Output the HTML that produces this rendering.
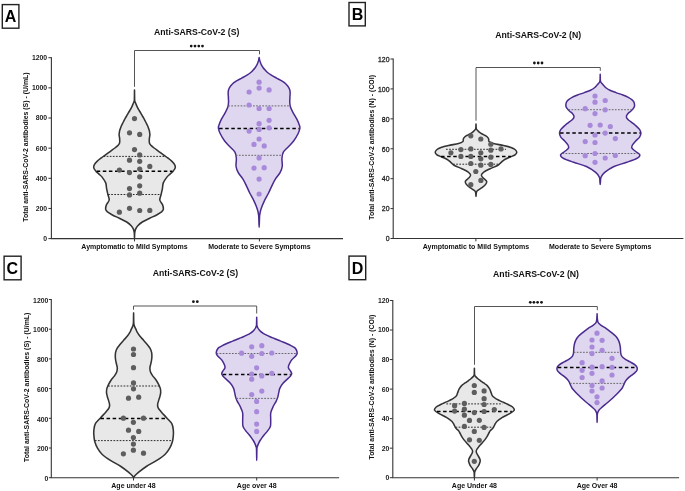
<!DOCTYPE html>
<html><head><meta charset="utf-8"><style>
html,body{margin:0;padding:0;background:#fff;}
svg{display:block;font-family:"Liberation Sans", sans-serif;}
text{-webkit-font-smoothing:antialiased;}
body{will-change:transform;}
</style></head><body>
<svg width="685" height="491" viewBox="0 0 685 491">
<rect width="685" height="491" fill="#fff"/>
<rect x="2.3" y="4.6" width="16.60" height="23.60" fill="none" stroke="#222" stroke-width="1.4"/>
<text x="10.6" y="21.7" font-size="16" font-weight="bold" text-anchor="middle" fill="#000">A</text>
<text x="196.7" y="34.7" font-size="8.7" font-weight="bold" text-anchor="middle" fill="#111">Anti-SARS-CoV-2 (S)</text>
<line x1="51.4" y1="57.2" x2="51.4" y2="238.6" stroke="#333" stroke-width="1.1"/>
<line x1="50.85" y1="238.6" x2="343" y2="238.6" stroke="#333" stroke-width="1.1"/>
<line x1="48.4" y1="238.60" x2="51.4" y2="238.60" stroke="#333" stroke-width="1"/>
<text transform="translate(47.20,241.05) scale(0.92,1)" font-size="7.5" font-weight="bold" text-anchor="end" fill="#222">0</text>
<line x1="48.4" y1="208.45" x2="51.4" y2="208.45" stroke="#333" stroke-width="1"/>
<text transform="translate(47.20,210.90) scale(0.92,1)" font-size="7.5" font-weight="bold" text-anchor="end" fill="#222">200</text>
<line x1="48.4" y1="178.30" x2="51.4" y2="178.30" stroke="#333" stroke-width="1"/>
<text transform="translate(47.20,180.75) scale(0.92,1)" font-size="7.5" font-weight="bold" text-anchor="end" fill="#222">400</text>
<line x1="48.4" y1="148.15" x2="51.4" y2="148.15" stroke="#333" stroke-width="1"/>
<text transform="translate(47.20,150.60) scale(0.92,1)" font-size="7.5" font-weight="bold" text-anchor="end" fill="#222">600</text>
<line x1="48.4" y1="118.00" x2="51.4" y2="118.00" stroke="#333" stroke-width="1"/>
<text transform="translate(47.20,120.45) scale(0.92,1)" font-size="7.5" font-weight="bold" text-anchor="end" fill="#222">800</text>
<line x1="48.4" y1="87.85" x2="51.4" y2="87.85" stroke="#333" stroke-width="1"/>
<text transform="translate(47.20,90.30) scale(0.92,1)" font-size="7.5" font-weight="bold" text-anchor="end" fill="#222">1000</text>
<line x1="48.4" y1="57.70" x2="51.4" y2="57.70" stroke="#333" stroke-width="1"/>
<text transform="translate(47.20,60.15) scale(0.92,1)" font-size="7.5" font-weight="bold" text-anchor="end" fill="#222">1200</text>
<line x1="134.5" y1="238.6" x2="134.5" y2="241.4" stroke="#333" stroke-width="1"/>
<text x="134.5" y="249" font-size="7" font-weight="bold" text-anchor="middle" fill="#111">Aymptomatic to Mild Symptoms</text>
<line x1="259.4" y1="238.6" x2="259.4" y2="241.4" stroke="#333" stroke-width="1"/>
<text x="259.4" y="249" font-size="7" font-weight="bold" text-anchor="middle" fill="#111">Moderate to Severe Symptoms</text>
<path d="M134.5,86.8 V50.5 H259.5 V54.3" fill="none" stroke="#555" stroke-width="1"/>
<circle cx="191.2" cy="46.1" r="1.38" fill="#151515"/>
<circle cx="195" cy="46.1" r="1.38" fill="#151515"/>
<circle cx="198.8" cy="46.1" r="1.38" fill="#151515"/>
<circle cx="202.5" cy="46.1" r="1.38" fill="#151515"/>
<text transform="translate(25.7,147.1) rotate(-90) scale(0.99,1)" x="0" y="2.4" font-size="7" font-weight="bold" text-anchor="middle" fill="#111">Total anti-SARS-CoV-2 antibodies (S) - (U/mL)</text>
<rect x="349" y="2.5" width="16.30" height="23.40" fill="none" stroke="#222" stroke-width="1.4"/>
<text x="357.6" y="20.1" font-size="16" font-weight="bold" text-anchor="middle" fill="#000">B</text>
<text x="538.2" y="37.8" font-size="8.7" font-weight="bold" text-anchor="middle" fill="#111">Anti-SARS-CoV-2 (N)</text>
<line x1="393.2" y1="58.5" x2="393.2" y2="238.5" stroke="#333" stroke-width="1.1"/>
<line x1="392.65" y1="238.5" x2="683.4" y2="238.5" stroke="#333" stroke-width="1.1"/>
<line x1="390.5" y1="238.50" x2="393.2" y2="238.50" stroke="#333" stroke-width="1"/>
<text transform="translate(389.50,241.25) scale(0.92,1)" font-size="7.5" font-weight="normal" text-anchor="end" fill="#222" stroke="#222" stroke-width="0.3">0</text>
<line x1="390.5" y1="208.58" x2="393.2" y2="208.58" stroke="#333" stroke-width="1"/>
<text transform="translate(389.50,211.33) scale(0.92,1)" font-size="7.5" font-weight="normal" text-anchor="end" fill="#222" stroke="#222" stroke-width="0.3">20</text>
<line x1="390.5" y1="178.67" x2="393.2" y2="178.67" stroke="#333" stroke-width="1"/>
<text transform="translate(389.50,181.42) scale(0.92,1)" font-size="7.5" font-weight="normal" text-anchor="end" fill="#222" stroke="#222" stroke-width="0.3">40</text>
<line x1="390.5" y1="148.75" x2="393.2" y2="148.75" stroke="#333" stroke-width="1"/>
<text transform="translate(389.50,151.50) scale(0.92,1)" font-size="7.5" font-weight="normal" text-anchor="end" fill="#222" stroke="#222" stroke-width="0.3">60</text>
<line x1="390.5" y1="118.83" x2="393.2" y2="118.83" stroke="#333" stroke-width="1"/>
<text transform="translate(389.50,121.58) scale(0.92,1)" font-size="7.5" font-weight="normal" text-anchor="end" fill="#222" stroke="#222" stroke-width="0.3">80</text>
<line x1="390.5" y1="88.92" x2="393.2" y2="88.92" stroke="#333" stroke-width="1"/>
<text transform="translate(389.50,91.67) scale(0.92,1)" font-size="7.5" font-weight="normal" text-anchor="end" fill="#222" stroke="#222" stroke-width="0.3">100</text>
<line x1="390.5" y1="59.00" x2="393.2" y2="59.00" stroke="#333" stroke-width="1"/>
<text transform="translate(389.50,61.75) scale(0.92,1)" font-size="7.5" font-weight="normal" text-anchor="end" fill="#222" stroke="#222" stroke-width="0.3">120</text>
<line x1="475.9" y1="238.5" x2="475.9" y2="241.3" stroke="#333" stroke-width="1"/>
<text x="475.9" y="249" font-size="7" font-weight="bold" text-anchor="middle" fill="#111">Aymptomatic to Mild Symptoms</text>
<line x1="600.2" y1="238.5" x2="600.2" y2="241.3" stroke="#333" stroke-width="1"/>
<text x="600.2" y="249" font-size="7" font-weight="bold" text-anchor="middle" fill="#111">Moderate to Severe Symptoms</text>
<path d="M476.0,120.7 V67.5 H600.3 V70.8" fill="none" stroke="#555" stroke-width="1"/>
<circle cx="534.4" cy="63.0" r="1.38" fill="#151515"/>
<circle cx="538.2" cy="63.0" r="1.38" fill="#151515"/>
<circle cx="542.0" cy="63.0" r="1.38" fill="#151515"/>
<text transform="translate(371.8,147.4) rotate(-90) scale(0.99,1)" x="0" y="2.4" font-size="7" font-weight="bold" text-anchor="middle" fill="#111">Total anti-SARS-CoV-2 antibodies (N) - (COI)</text>
<rect x="4.1" y="256.2" width="17.00" height="23.60" fill="none" stroke="#222" stroke-width="1.4"/>
<text x="12.2" y="273.8" font-size="16" font-weight="bold" text-anchor="middle" fill="#000">C</text>
<text x="195.4" y="276.4" font-size="8.7" font-weight="bold" text-anchor="middle" fill="#111">Anti-SARS-CoV-2 (S)</text>
<line x1="51.3" y1="299.0" x2="51.3" y2="477.7" stroke="#333" stroke-width="1.1"/>
<line x1="50.75" y1="477.7" x2="339.1" y2="477.7" stroke="#333" stroke-width="1.1"/>
<line x1="48.9" y1="477.70" x2="51.3" y2="477.70" stroke="#333" stroke-width="1"/>
<text transform="translate(48.40,480.90) scale(0.92,1)" font-size="7.5" font-weight="bold" text-anchor="end" fill="#222">0</text>
<line x1="48.9" y1="448.00" x2="51.3" y2="448.00" stroke="#333" stroke-width="1"/>
<text transform="translate(48.40,451.20) scale(0.92,1)" font-size="7.5" font-weight="bold" text-anchor="end" fill="#222">200</text>
<line x1="48.9" y1="418.30" x2="51.3" y2="418.30" stroke="#333" stroke-width="1"/>
<text transform="translate(48.40,421.50) scale(0.92,1)" font-size="7.5" font-weight="bold" text-anchor="end" fill="#222">400</text>
<line x1="48.9" y1="388.60" x2="51.3" y2="388.60" stroke="#333" stroke-width="1"/>
<text transform="translate(48.40,391.80) scale(0.92,1)" font-size="7.5" font-weight="bold" text-anchor="end" fill="#222">600</text>
<line x1="48.9" y1="358.90" x2="51.3" y2="358.90" stroke="#333" stroke-width="1"/>
<text transform="translate(48.40,362.10) scale(0.92,1)" font-size="7.5" font-weight="bold" text-anchor="end" fill="#222">800</text>
<line x1="48.9" y1="329.20" x2="51.3" y2="329.20" stroke="#333" stroke-width="1"/>
<text transform="translate(48.40,332.40) scale(0.92,1)" font-size="7.5" font-weight="bold" text-anchor="end" fill="#222">1000</text>
<line x1="48.9" y1="299.50" x2="51.3" y2="299.50" stroke="#333" stroke-width="1"/>
<text transform="translate(48.40,302.70) scale(0.92,1)" font-size="7.5" font-weight="bold" text-anchor="end" fill="#222">1200</text>
<line x1="133.5" y1="477.7" x2="133.5" y2="480.5" stroke="#333" stroke-width="1"/>
<text x="133.5" y="487.8" font-size="7" font-weight="bold" text-anchor="middle" fill="#111">Age under 48</text>
<line x1="256.7" y1="477.7" x2="256.7" y2="480.5" stroke="#333" stroke-width="1"/>
<text x="256.7" y="487.8" font-size="7" font-weight="bold" text-anchor="middle" fill="#111">Age over 48</text>
<path d="M133.5,309.7 V306.0 H256.7 V313.5" fill="none" stroke="#555" stroke-width="1"/>
<circle cx="193.4" cy="301.7" r="1.38" fill="#151515"/>
<circle cx="197.3" cy="301.7" r="1.38" fill="#151515"/>
<text transform="translate(26.2,387.3) rotate(-90) scale(0.99,1)" x="0" y="2.4" font-size="7" font-weight="bold" text-anchor="middle" fill="#111">Total anti-SARS-CoV-2 antibodies (S) - (U/mL)</text>
<rect x="349" y="256.1" width="16.70" height="23.60" fill="none" stroke="#222" stroke-width="1.4"/>
<text x="357.5" y="273.5" font-size="16" font-weight="bold" text-anchor="middle" fill="#000">D</text>
<text x="536" y="277.4" font-size="8.7" font-weight="bold" text-anchor="middle" fill="#111">Anti-SARS-CoV-2 (N)</text>
<line x1="392.8" y1="300.0" x2="392.8" y2="477.7" stroke="#333" stroke-width="1.1"/>
<line x1="392.25" y1="477.7" x2="679.1" y2="477.7" stroke="#333" stroke-width="1.1"/>
<line x1="389.8" y1="477.70" x2="392.8" y2="477.70" stroke="#333" stroke-width="1"/>
<text transform="translate(389.40,480.15) scale(0.92,1)" font-size="7.5" font-weight="bold" text-anchor="end" fill="#222">0</text>
<line x1="389.8" y1="448.17" x2="392.8" y2="448.17" stroke="#333" stroke-width="1"/>
<text transform="translate(389.40,450.62) scale(0.92,1)" font-size="7.5" font-weight="bold" text-anchor="end" fill="#222">20</text>
<line x1="389.8" y1="418.63" x2="392.8" y2="418.63" stroke="#333" stroke-width="1"/>
<text transform="translate(389.40,421.08) scale(0.92,1)" font-size="7.5" font-weight="bold" text-anchor="end" fill="#222">40</text>
<line x1="389.8" y1="389.10" x2="392.8" y2="389.10" stroke="#333" stroke-width="1"/>
<text transform="translate(389.40,391.55) scale(0.92,1)" font-size="7.5" font-weight="bold" text-anchor="end" fill="#222">60</text>
<line x1="389.8" y1="359.57" x2="392.8" y2="359.57" stroke="#333" stroke-width="1"/>
<text transform="translate(389.40,362.02) scale(0.92,1)" font-size="7.5" font-weight="bold" text-anchor="end" fill="#222">80</text>
<line x1="389.8" y1="330.03" x2="392.8" y2="330.03" stroke="#333" stroke-width="1"/>
<text transform="translate(389.40,332.48) scale(0.92,1)" font-size="7.5" font-weight="bold" text-anchor="end" fill="#222">100</text>
<line x1="389.8" y1="300.50" x2="392.8" y2="300.50" stroke="#333" stroke-width="1"/>
<text transform="translate(389.40,302.95) scale(0.92,1)" font-size="7.5" font-weight="bold" text-anchor="end" fill="#222">120</text>
<line x1="474.4" y1="477.7" x2="474.4" y2="480.5" stroke="#333" stroke-width="1"/>
<text x="474.4" y="487.8" font-size="7" font-weight="bold" text-anchor="middle" fill="#111">Age Under 48</text>
<line x1="597.1" y1="477.7" x2="597.1" y2="480.5" stroke="#333" stroke-width="1"/>
<text x="597.1" y="487.8" font-size="7" font-weight="bold" text-anchor="middle" fill="#111">Age Over 48</text>
<path d="M474.5,364.8 V306.5 H597.3 V310.2" fill="none" stroke="#555" stroke-width="1"/>
<circle cx="530.3" cy="302.3" r="1.38" fill="#151515"/>
<circle cx="533.9" cy="302.3" r="1.38" fill="#151515"/>
<circle cx="537.6" cy="302.3" r="1.38" fill="#151515"/>
<circle cx="541.5" cy="302.3" r="1.38" fill="#151515"/>
<text transform="translate(371.3,387.2) rotate(-90) scale(0.99,1)" x="0" y="2.4" font-size="7" font-weight="bold" text-anchor="middle" fill="#111">Total anti-SARS-CoV-2 antibodies (N) - (COI)</text>
<path d="M134.50,90.10 C134.52,91.42 134.57,96.27 134.60,98.00 C134.63,99.73 134.62,99.83 134.70,100.50 C134.78,101.17 134.93,101.53 135.10,102.00 C135.27,102.47 135.42,102.63 135.70,103.30 C135.98,103.97 136.45,105.18 136.80,106.00 C137.15,106.82 137.40,107.45 137.80,108.20 C138.20,108.95 138.70,109.68 139.20,110.50 C139.70,111.32 140.30,112.25 140.80,113.10 C141.30,113.95 141.72,114.75 142.20,115.60 C142.68,116.45 143.23,117.35 143.70,118.20 C144.17,119.05 144.55,119.85 145.00,120.70 C145.45,121.55 145.97,122.45 146.40,123.30 C146.83,124.15 147.23,124.95 147.60,125.80 C147.97,126.65 148.30,127.55 148.60,128.40 C148.90,129.25 149.22,130.13 149.40,130.90 C149.58,131.67 149.62,132.32 149.70,133.00 C149.78,133.68 149.97,133.98 149.90,135.00 C149.83,136.02 149.37,137.73 149.30,139.10 C149.23,140.47 149.17,142.12 149.50,143.20 C149.83,144.28 150.53,144.80 151.30,145.60 C152.07,146.40 152.88,147.05 154.10,148.00 C155.32,148.95 157.10,150.20 158.60,151.30 C160.10,152.40 161.60,153.52 163.10,154.60 C164.60,155.68 166.17,156.72 167.60,157.80 C169.03,158.88 170.55,160.02 171.70,161.10 C172.85,162.18 173.90,163.22 174.50,164.30 C175.10,165.38 175.50,166.50 175.30,167.60 C175.10,168.70 174.18,169.82 173.30,170.90 C172.42,171.98 171.07,173.07 170.00,174.10 C168.93,175.13 168.02,175.63 166.90,177.10 C165.78,178.57 164.05,180.97 163.30,182.90 C162.55,184.83 162.77,186.77 162.40,188.70 C162.03,190.63 161.53,192.62 161.10,194.50 C160.67,196.38 159.57,198.32 159.80,200.00 C160.03,201.68 161.90,203.07 162.50,204.60 C163.10,206.13 163.55,207.98 163.40,209.20 C163.25,210.42 162.67,210.98 161.60,211.90 C160.53,212.82 158.98,213.63 157.00,214.70 C155.02,215.77 152.15,217.08 149.70,218.30 C147.25,219.52 144.28,220.77 142.30,222.00 C140.32,223.23 138.93,224.47 137.80,225.70 C136.67,226.93 136.02,228.18 135.50,229.40 C134.98,230.62 134.87,231.47 134.70,233.00 C134.53,234.53 134.57,238.60 134.50,238.60 C134.43,238.60 134.47,234.53 134.30,233.00 C134.13,231.47 134.02,230.62 133.50,229.40 C132.98,228.18 132.33,226.93 131.20,225.70 C130.07,224.47 128.68,223.23 126.70,222.00 C124.72,220.77 121.75,219.52 119.30,218.30 C116.85,217.08 113.98,215.77 112.00,214.70 C110.02,213.63 108.47,212.82 107.40,211.90 C106.33,210.98 105.75,210.42 105.60,209.20 C105.45,207.98 105.90,206.13 106.50,204.60 C107.10,203.07 108.97,201.68 109.20,200.00 C109.43,198.32 108.33,196.38 107.90,194.50 C107.47,192.62 106.97,190.63 106.60,188.70 C106.23,186.77 106.45,184.83 105.70,182.90 C104.95,180.97 103.22,178.57 102.10,177.10 C100.98,175.63 100.07,175.13 99.00,174.10 C97.93,173.07 96.58,171.98 95.70,170.90 C94.82,169.82 93.90,168.70 93.70,167.60 C93.50,166.50 93.90,165.38 94.50,164.30 C95.10,163.22 96.15,162.18 97.30,161.10 C98.45,160.02 99.97,158.88 101.40,157.80 C102.83,156.72 104.40,155.68 105.90,154.60 C107.40,153.52 108.90,152.40 110.40,151.30 C111.90,150.20 113.68,148.95 114.90,148.00 C116.12,147.05 116.93,146.40 117.70,145.60 C118.47,144.80 119.17,144.28 119.50,143.20 C119.83,142.12 119.77,140.47 119.70,139.10 C119.63,137.73 119.17,136.02 119.10,135.00 C119.03,133.98 119.22,133.68 119.30,133.00 C119.38,132.32 119.42,131.67 119.60,130.90 C119.78,130.13 120.10,129.25 120.40,128.40 C120.70,127.55 121.03,126.65 121.40,125.80 C121.77,124.95 122.17,124.15 122.60,123.30 C123.03,122.45 123.55,121.55 124.00,120.70 C124.45,119.85 124.83,119.05 125.30,118.20 C125.77,117.35 126.32,116.45 126.80,115.60 C127.28,114.75 127.70,113.95 128.20,113.10 C128.70,112.25 129.30,111.32 129.80,110.50 C130.30,109.68 130.80,108.95 131.20,108.20 C131.60,107.45 131.85,106.82 132.20,106.00 C132.55,105.18 133.02,103.97 133.30,103.30 C133.58,102.63 133.73,102.47 133.90,102.00 C134.07,101.53 134.22,101.17 134.30,100.50 C134.38,99.83 134.37,99.73 134.40,98.00 C134.43,96.27 134.48,91.42 134.50,90.10 Z" fill="#e8e8e8" stroke="#333333" stroke-width="1.55" stroke-linejoin="round"/>
<line x1="103.57" y1="156.4" x2="165.43" y2="156.4" stroke="#2a2a2a" stroke-width="1" stroke-dasharray="1.7 1.4"/>
<line x1="108.10" y1="194.5" x2="160.90" y2="194.5" stroke="#2a2a2a" stroke-width="1" stroke-dasharray="1.7 1.4"/>
<line x1="96.71" y1="171.3" x2="172.29" y2="171.3" stroke="#000" stroke-width="1.5" stroke-dasharray="3.5 2.6"/>
<circle cx="134.5" cy="118.6" r="2.6" fill="#5e5e5e"/>
<circle cx="129.5" cy="132.8" r="2.6" fill="#5e5e5e"/>
<circle cx="139.7" cy="134.4" r="2.6" fill="#5e5e5e"/>
<circle cx="134.5" cy="149.6" r="2.6" fill="#5e5e5e"/>
<circle cx="139.7" cy="154.9" r="2.6" fill="#5e5e5e"/>
<circle cx="129.5" cy="160.2" r="2.6" fill="#5e5e5e"/>
<circle cx="139.7" cy="161.3" r="2.6" fill="#5e5e5e"/>
<circle cx="149.8" cy="166.4" r="2.6" fill="#5e5e5e"/>
<circle cx="119.4" cy="170.1" r="2.6" fill="#5e5e5e"/>
<circle cx="129.5" cy="172.6" r="2.6" fill="#5e5e5e"/>
<circle cx="139.7" cy="169" r="2.6" fill="#5e5e5e"/>
<circle cx="139.7" cy="176.8" r="2.6" fill="#5e5e5e"/>
<circle cx="129.5" cy="188.6" r="2.6" fill="#5e5e5e"/>
<circle cx="139.7" cy="185.8" r="2.6" fill="#5e5e5e"/>
<circle cx="129.5" cy="194.9" r="2.6" fill="#5e5e5e"/>
<circle cx="139.7" cy="193.2" r="2.6" fill="#5e5e5e"/>
<circle cx="119.4" cy="212.2" r="2.6" fill="#5e5e5e"/>
<circle cx="129.5" cy="208.3" r="2.6" fill="#5e5e5e"/>
<circle cx="139.7" cy="210.5" r="2.6" fill="#5e5e5e"/>
<circle cx="149.8" cy="210.4" r="2.6" fill="#5e5e5e"/>
<path d="M259.15,57.50 C259.23,57.93 259.43,59.25 259.65,60.10 C259.87,60.95 260.13,61.75 260.45,62.60 C260.77,63.45 261.10,64.35 261.55,65.20 C262.00,66.05 262.52,66.85 263.15,67.70 C263.78,68.55 264.62,69.50 265.35,70.30 C266.08,71.10 266.55,71.70 267.55,72.50 C268.55,73.30 269.85,74.17 271.35,75.10 C272.85,76.03 274.75,77.08 276.55,78.10 C278.35,79.12 280.55,80.18 282.15,81.20 C283.75,82.22 285.07,83.18 286.15,84.20 C287.23,85.22 288.03,86.28 288.65,87.30 C289.27,88.32 289.60,89.28 289.85,90.30 C290.10,91.32 290.13,92.38 290.15,93.40 C290.17,94.42 290.00,95.38 289.95,96.40 C289.90,97.42 289.88,98.58 289.85,99.50 C289.82,100.42 289.65,100.65 289.75,101.90 C289.85,103.15 289.85,105.13 290.45,107.00 C291.05,108.87 292.28,111.07 293.35,113.10 C294.42,115.13 295.83,117.15 296.85,119.20 C297.87,121.25 298.95,123.87 299.45,125.40 C299.95,126.93 300.07,127.05 299.85,128.40 C299.63,129.75 299.18,131.40 298.15,133.50 C297.12,135.60 295.32,138.75 293.65,141.00 C291.98,143.25 289.87,145.13 288.15,147.00 C286.43,148.87 284.38,150.32 283.35,152.20 C282.32,154.08 282.13,155.92 281.95,158.30 C281.77,160.68 282.57,164.12 282.25,166.50 C281.93,168.88 281.15,170.57 280.05,172.60 C278.95,174.63 276.93,176.67 275.65,178.70 C274.37,180.73 273.53,182.42 272.35,184.80 C271.17,187.18 269.90,190.28 268.55,193.00 C267.20,195.72 265.52,198.40 264.25,201.10 C262.98,203.80 261.72,206.82 260.95,209.20 C260.18,211.58 259.95,212.40 259.65,215.40 C259.35,218.40 259.32,227.20 259.15,227.20 C258.98,227.20 258.95,218.40 258.65,215.40 C258.35,212.40 258.12,211.58 257.35,209.20 C256.58,206.82 255.32,203.80 254.05,201.10 C252.78,198.40 251.10,195.72 249.75,193.00 C248.40,190.28 247.13,187.18 245.95,184.80 C244.77,182.42 243.93,180.73 242.65,178.70 C241.37,176.67 239.35,174.63 238.25,172.60 C237.15,170.57 236.37,168.88 236.05,166.50 C235.73,164.12 236.53,160.68 236.35,158.30 C236.17,155.92 235.98,154.08 234.95,152.20 C233.92,150.32 231.87,148.87 230.15,147.00 C228.43,145.13 226.32,143.25 224.65,141.00 C222.98,138.75 221.18,135.60 220.15,133.50 C219.12,131.40 218.67,129.75 218.45,128.40 C218.23,127.05 218.35,126.93 218.85,125.40 C219.35,123.87 220.43,121.25 221.45,119.20 C222.47,117.15 223.88,115.13 224.95,113.10 C226.02,111.07 227.25,108.87 227.85,107.00 C228.45,105.13 228.45,103.15 228.55,101.90 C228.65,100.65 228.48,100.42 228.45,99.50 C228.42,98.58 228.40,97.42 228.35,96.40 C228.30,95.38 228.13,94.42 228.15,93.40 C228.17,92.38 228.20,91.32 228.45,90.30 C228.70,89.28 229.03,88.32 229.65,87.30 C230.27,86.28 231.07,85.22 232.15,84.20 C233.23,83.18 234.55,82.22 236.15,81.20 C237.75,80.18 239.95,79.12 241.75,78.10 C243.55,77.08 245.45,76.03 246.95,75.10 C248.45,74.17 249.75,73.30 250.75,72.50 C251.75,71.70 252.22,71.10 252.95,70.30 C253.68,69.50 254.52,68.55 255.15,67.70 C255.78,66.85 256.30,66.05 256.75,65.20 C257.20,64.35 257.53,63.45 257.85,62.60 C258.17,61.75 258.43,60.95 258.65,60.10 C258.87,59.25 259.07,57.93 259.15,57.50 Z" fill="#ded7ef" stroke="#4a2a8e" stroke-width="1.5" stroke-linejoin="round"/>
<line x1="228.20" y1="105.9" x2="290.10" y2="105.9" stroke="#666" stroke-width="1" stroke-dasharray="1.7 1.4"/>
<line x1="235.86" y1="155.3" x2="282.44" y2="155.3" stroke="#666" stroke-width="1" stroke-dasharray="1.7 1.4"/>
<line x1="219.12" y1="128.6" x2="299.18" y2="128.6" stroke="#000" stroke-width="1.5" stroke-dasharray="3.5 2.6"/>
<circle cx="259.1" cy="82.2" r="2.6" fill="#a98ada"/>
<circle cx="259.1" cy="88.1" r="2.6" fill="#a98ada"/>
<circle cx="249.1" cy="92" r="2.6" fill="#a98ada"/>
<circle cx="269.1" cy="89.9" r="2.6" fill="#a98ada"/>
<circle cx="249.1" cy="105" r="2.6" fill="#a98ada"/>
<circle cx="259.1" cy="108.5" r="2.6" fill="#a98ada"/>
<circle cx="269.1" cy="108.5" r="2.6" fill="#a98ada"/>
<circle cx="269.1" cy="120.3" r="2.6" fill="#a98ada"/>
<circle cx="259.1" cy="123.7" r="2.6" fill="#a98ada"/>
<circle cx="259.1" cy="129.4" r="2.6" fill="#a98ada"/>
<circle cx="269.1" cy="127.8" r="2.6" fill="#a98ada"/>
<circle cx="249.1" cy="131.1" r="2.6" fill="#a98ada"/>
<circle cx="259.1" cy="139" r="2.6" fill="#a98ada"/>
<circle cx="254" cy="144.4" r="2.6" fill="#a98ada"/>
<circle cx="264.2" cy="145.9" r="2.6" fill="#a98ada"/>
<circle cx="259.1" cy="157.9" r="2.6" fill="#a98ada"/>
<circle cx="254" cy="168.1" r="2.6" fill="#a98ada"/>
<circle cx="264.2" cy="167.7" r="2.6" fill="#a98ada"/>
<circle cx="259.1" cy="179.1" r="2.6" fill="#a98ada"/>
<circle cx="259.1" cy="194" r="2.6" fill="#a98ada"/>
<path d="M476.00,124.00 C476.03,124.72 476.07,127.37 476.20,128.30 C476.33,129.23 476.48,129.15 476.80,129.60 C477.12,130.05 477.57,130.48 478.10,131.00 C478.63,131.52 479.30,132.20 480.00,132.70 C480.70,133.20 481.50,133.57 482.30,134.00 C483.10,134.43 484.05,134.88 484.80,135.30 C485.55,135.72 486.17,135.92 486.80,136.50 C487.43,137.08 488.22,137.97 488.60,138.80 C488.98,139.63 488.28,140.72 489.10,141.50 C489.92,142.28 491.10,142.83 493.50,143.50 C495.90,144.17 500.58,144.83 503.50,145.50 C506.42,146.17 509.08,146.83 511.00,147.50 C512.92,148.17 514.03,148.72 515.00,149.50 C515.97,150.28 516.80,151.30 516.80,152.20 C516.80,153.10 515.72,154.25 515.00,154.90 C514.28,155.55 514.13,155.38 512.50,156.10 C510.87,156.82 507.08,158.15 505.20,159.20 C503.32,160.25 502.47,161.35 501.20,162.40 C499.93,163.45 499.43,164.45 497.60,165.50 C495.77,166.55 492.45,167.65 490.20,168.70 C487.95,169.75 485.57,170.75 484.10,171.80 C482.63,172.85 481.53,173.95 481.40,175.00 C481.27,176.05 482.43,177.05 483.30,178.10 C484.17,179.15 486.22,180.25 486.60,181.30 C486.98,182.35 486.37,183.35 485.60,184.40 C484.83,185.45 483.38,186.55 482.00,187.60 C480.62,188.65 478.25,189.80 477.30,190.70 C476.35,191.60 476.52,192.03 476.30,193.00 C476.08,193.97 476.10,196.50 476.00,196.50 C475.90,196.50 475.92,193.97 475.70,193.00 C475.48,192.03 475.65,191.60 474.70,190.70 C473.75,189.80 471.38,188.65 470.00,187.60 C468.62,186.55 467.17,185.45 466.40,184.40 C465.63,183.35 465.02,182.35 465.40,181.30 C465.78,180.25 467.83,179.15 468.70,178.10 C469.57,177.05 470.73,176.05 470.60,175.00 C470.47,173.95 469.37,172.85 467.90,171.80 C466.43,170.75 464.05,169.75 461.80,168.70 C459.55,167.65 456.23,166.55 454.40,165.50 C452.57,164.45 452.07,163.45 450.80,162.40 C449.53,161.35 448.68,160.25 446.80,159.20 C444.92,158.15 441.13,156.82 439.50,156.10 C437.87,155.38 437.72,155.55 437.00,154.90 C436.28,154.25 435.20,153.10 435.20,152.20 C435.20,151.30 436.03,150.28 437.00,149.50 C437.97,148.72 439.08,148.17 441.00,147.50 C442.92,146.83 445.58,146.17 448.50,145.50 C451.42,144.83 456.10,144.17 458.50,143.50 C460.90,142.83 462.08,142.28 462.90,141.50 C463.72,140.72 463.02,139.63 463.40,138.80 C463.78,137.97 464.57,137.08 465.20,136.50 C465.83,135.92 466.45,135.72 467.20,135.30 C467.95,134.88 468.90,134.43 469.70,134.00 C470.50,133.57 471.30,133.20 472.00,132.70 C472.70,132.20 473.37,131.52 473.90,131.00 C474.43,130.48 474.88,130.05 475.20,129.60 C475.52,129.15 475.67,129.23 475.80,128.30 C475.93,127.37 475.97,124.72 476.00,124.00 Z" fill="#e8e8e8" stroke="#333333" stroke-width="1.55" stroke-linejoin="round"/>
<line x1="446.00" y1="149.3" x2="506.00" y2="149.3" stroke="#2a2a2a" stroke-width="1" stroke-dasharray="1.7 1.4"/>
<line x1="453.09" y1="164.2" x2="498.91" y2="164.2" stroke="#2a2a2a" stroke-width="1" stroke-dasharray="1.7 1.4"/>
<line x1="441.04" y1="156.5" x2="510.96" y2="156.5" stroke="#000" stroke-width="1.5" stroke-dasharray="3.5 2.6"/>
<circle cx="470.8" cy="135.8" r="2.6" fill="#5e5e5e"/>
<circle cx="480.8" cy="139" r="2.6" fill="#5e5e5e"/>
<circle cx="490.8" cy="144.2" r="2.6" fill="#5e5e5e"/>
<circle cx="460.9" cy="149.6" r="2.6" fill="#5e5e5e"/>
<circle cx="470.8" cy="148.9" r="2.6" fill="#5e5e5e"/>
<circle cx="490.8" cy="150.2" r="2.6" fill="#5e5e5e"/>
<circle cx="501" cy="148.9" r="2.6" fill="#5e5e5e"/>
<circle cx="450.9" cy="152.8" r="2.6" fill="#5e5e5e"/>
<circle cx="480.8" cy="152.8" r="2.6" fill="#5e5e5e"/>
<circle cx="460.9" cy="156.4" r="2.6" fill="#5e5e5e"/>
<circle cx="470.8" cy="156.4" r="2.6" fill="#5e5e5e"/>
<circle cx="480.8" cy="158.8" r="2.6" fill="#5e5e5e"/>
<circle cx="490.8" cy="157.2" r="2.6" fill="#5e5e5e"/>
<circle cx="470.8" cy="163.5" r="2.6" fill="#5e5e5e"/>
<circle cx="480.8" cy="165.2" r="2.6" fill="#5e5e5e"/>
<circle cx="490.8" cy="164.4" r="2.6" fill="#5e5e5e"/>
<circle cx="475.8" cy="171.5" r="2.6" fill="#5e5e5e"/>
<circle cx="480.9" cy="180.4" r="2.6" fill="#5e5e5e"/>
<circle cx="470.8" cy="184.7" r="2.6" fill="#5e5e5e"/>
<path d="M600.20,74.30 C600.23,75.25 600.27,78.77 600.35,80.00 C600.43,81.23 600.48,81.15 600.70,81.70 C600.93,82.25 601.23,82.70 601.70,83.30 C602.17,83.90 602.75,84.52 603.50,85.30 C604.25,86.08 605.13,87.17 606.20,88.00 C607.27,88.83 608.27,89.53 609.90,90.30 C611.53,91.07 613.83,91.82 616.00,92.60 C618.17,93.38 620.85,94.22 622.90,95.00 C624.95,95.78 626.82,96.53 628.30,97.30 C629.78,98.07 630.88,98.83 631.80,99.60 C632.72,100.37 633.35,101.12 633.80,101.90 C634.25,102.68 634.40,103.52 634.50,104.30 C634.60,105.08 634.65,105.83 634.40,106.60 C634.15,107.37 633.62,108.13 633.00,108.90 C632.38,109.67 631.53,110.43 630.70,111.20 C629.87,111.97 628.70,112.72 628.00,113.50 C627.30,114.28 626.70,115.12 626.50,115.90 C626.30,116.68 626.37,117.43 626.80,118.20 C627.23,118.97 628.20,119.73 629.10,120.50 C630.00,121.27 631.17,122.02 632.20,122.80 C633.23,123.58 634.08,124.10 635.30,125.20 C636.52,126.30 638.57,128.08 639.50,129.40 C640.43,130.72 640.88,131.82 640.90,133.10 C640.92,134.38 640.47,135.78 639.60,137.10 C638.73,138.42 636.90,139.68 635.70,141.00 C634.50,142.32 633.03,143.80 632.40,145.00 C631.77,146.20 631.35,147.12 631.90,148.20 C632.45,149.28 634.38,150.40 635.70,151.50 C637.02,152.60 639.52,153.70 639.80,154.80 C640.08,155.90 639.58,156.85 637.40,158.10 C635.22,159.35 630.60,160.90 626.70,162.30 C622.80,163.70 617.67,164.82 614.00,166.50 C610.33,168.18 606.87,170.60 604.70,172.40 C602.53,174.20 601.75,175.27 601.00,177.30 C600.25,179.33 600.47,184.60 600.20,184.60 C599.93,184.60 600.15,179.33 599.40,177.30 C598.65,175.27 597.87,174.20 595.70,172.40 C593.53,170.60 590.07,168.18 586.40,166.50 C582.73,164.82 577.60,163.70 573.70,162.30 C569.80,160.90 565.18,159.35 563.00,158.10 C560.82,156.85 560.32,155.90 560.60,154.80 C560.88,153.70 563.38,152.60 564.70,151.50 C566.02,150.40 567.95,149.28 568.50,148.20 C569.05,147.12 568.63,146.20 568.00,145.00 C567.37,143.80 565.90,142.32 564.70,141.00 C563.50,139.68 561.67,138.42 560.80,137.10 C559.93,135.78 559.48,134.38 559.50,133.10 C559.52,131.82 559.97,130.72 560.90,129.40 C561.83,128.08 563.88,126.30 565.10,125.20 C566.32,124.10 567.17,123.58 568.20,122.80 C569.23,122.02 570.40,121.27 571.30,120.50 C572.20,119.73 573.17,118.97 573.60,118.20 C574.03,117.43 574.10,116.68 573.90,115.90 C573.70,115.12 573.10,114.28 572.40,113.50 C571.70,112.72 570.53,111.97 569.70,111.20 C568.87,110.43 568.02,109.67 567.40,108.90 C566.78,108.13 566.25,107.37 566.00,106.60 C565.75,105.83 565.80,105.08 565.90,104.30 C566.00,103.52 566.15,102.68 566.60,101.90 C567.05,101.12 567.68,100.37 568.60,99.60 C569.52,98.83 570.62,98.07 572.10,97.30 C573.58,96.53 575.45,95.78 577.50,95.00 C579.55,94.22 582.23,93.38 584.40,92.60 C586.57,91.82 588.87,91.07 590.50,90.30 C592.13,89.53 593.13,88.83 594.20,88.00 C595.27,87.17 596.15,86.08 596.90,85.30 C597.65,84.52 598.23,83.90 598.70,83.30 C599.17,82.70 599.48,82.25 599.70,81.70 C599.93,81.15 599.97,81.23 600.05,80.00 C600.13,78.77 600.18,75.25 600.20,74.30 Z" fill="#ded7ef" stroke="#4a2a8e" stroke-width="1.5" stroke-linejoin="round"/>
<line x1="568.40" y1="109.7" x2="632.00" y2="109.7" stroke="#666" stroke-width="1" stroke-dasharray="1.7 1.4"/>
<line x1="562.42" y1="153.5" x2="637.98" y2="153.5" stroke="#666" stroke-width="1" stroke-dasharray="1.7 1.4"/>
<line x1="560.10" y1="133.1" x2="640.30" y2="133.1" stroke="#000" stroke-width="1.5" stroke-dasharray="3.5 2.6"/>
<circle cx="595" cy="96" r="2.6" fill="#a98ada"/>
<circle cx="595" cy="102.2" r="2.6" fill="#a98ada"/>
<circle cx="605.2" cy="100.5" r="2.6" fill="#a98ada"/>
<circle cx="585.2" cy="108.7" r="2.6" fill="#a98ada"/>
<circle cx="605.2" cy="109.8" r="2.6" fill="#a98ada"/>
<circle cx="595" cy="113.6" r="2.6" fill="#a98ada"/>
<circle cx="590.1" cy="125.3" r="2.6" fill="#a98ada"/>
<circle cx="600.2" cy="125" r="2.6" fill="#a98ada"/>
<circle cx="610.3" cy="126.5" r="2.6" fill="#a98ada"/>
<circle cx="605.2" cy="133.1" r="2.6" fill="#a98ada"/>
<circle cx="595" cy="135" r="2.6" fill="#a98ada"/>
<circle cx="615.3" cy="138.6" r="2.6" fill="#a98ada"/>
<circle cx="585.2" cy="141.6" r="2.6" fill="#a98ada"/>
<circle cx="595" cy="142.5" r="2.6" fill="#a98ada"/>
<circle cx="585.2" cy="155.7" r="2.6" fill="#a98ada"/>
<circle cx="595" cy="153.5" r="2.6" fill="#a98ada"/>
<circle cx="605.2" cy="158" r="2.6" fill="#a98ada"/>
<circle cx="615.3" cy="155.5" r="2.6" fill="#a98ada"/>
<circle cx="595" cy="162.3" r="2.6" fill="#a98ada"/>
<path d="M133.60,312.90 C133.62,314.42 133.68,320.07 133.75,322.00 C133.82,323.93 133.86,323.75 134.00,324.50 C134.14,325.25 134.27,325.68 134.60,326.50 C134.93,327.32 135.57,328.45 136.00,329.40 C136.43,330.35 136.57,331.08 137.20,332.20 C137.83,333.32 138.77,334.78 139.80,336.10 C140.83,337.42 142.20,338.75 143.40,340.10 C144.60,341.45 145.88,342.83 147.00,344.20 C148.12,345.57 149.33,346.93 150.10,348.30 C150.87,349.67 151.30,351.05 151.60,352.40 C151.90,353.75 151.92,355.05 151.90,356.40 C151.88,357.75 151.72,359.13 151.50,360.50 C151.28,361.87 150.87,363.35 150.60,364.60 C150.33,365.85 149.92,366.75 149.90,368.00 C149.88,369.25 150.00,370.75 150.50,372.10 C151.00,373.45 151.95,374.75 152.90,376.10 C153.85,377.45 155.25,378.83 156.20,380.20 C157.15,381.57 157.92,382.93 158.60,384.30 C159.28,385.67 159.95,387.05 160.30,388.40 C160.65,389.75 160.77,391.05 160.70,392.40 C160.63,393.75 160.25,395.13 159.90,396.50 C159.55,397.87 158.98,399.23 158.60,400.60 C158.22,401.97 157.67,403.48 157.60,404.70 C157.53,405.92 157.62,406.73 158.20,407.90 C158.78,409.07 159.63,409.98 161.10,411.70 C162.57,413.42 165.22,416.20 167.00,418.20 C168.78,420.20 170.75,421.77 171.80,423.70 C172.85,425.63 173.05,427.77 173.30,429.80 C173.55,431.83 173.47,433.87 173.30,435.90 C173.13,437.93 172.90,439.97 172.30,442.00 C171.70,444.03 170.88,446.07 169.70,448.10 C168.52,450.13 167.35,452.15 165.20,454.20 C163.05,456.25 159.95,458.35 156.80,460.40 C153.65,462.45 149.40,464.47 146.30,466.50 C143.20,468.53 140.15,471.02 138.20,472.60 C136.25,474.18 135.37,475.15 134.60,476.00 C133.83,476.85 133.93,477.70 133.60,477.70 C133.27,477.70 133.37,476.85 132.60,476.00 C131.83,475.15 130.95,474.18 129.00,472.60 C127.05,471.02 124.00,468.53 120.90,466.50 C117.80,464.47 113.55,462.45 110.40,460.40 C107.25,458.35 104.15,456.25 102.00,454.20 C99.85,452.15 98.68,450.13 97.50,448.10 C96.32,446.07 95.50,444.03 94.90,442.00 C94.30,439.97 94.07,437.93 93.90,435.90 C93.73,433.87 93.65,431.83 93.90,429.80 C94.15,427.77 94.35,425.63 95.40,423.70 C96.45,421.77 98.42,420.20 100.20,418.20 C101.98,416.20 104.63,413.42 106.10,411.70 C107.57,409.98 108.42,409.07 109.00,407.90 C109.58,406.73 109.67,405.92 109.60,404.70 C109.53,403.48 108.98,401.97 108.60,400.60 C108.22,399.23 107.65,397.87 107.30,396.50 C106.95,395.13 106.57,393.75 106.50,392.40 C106.43,391.05 106.55,389.75 106.90,388.40 C107.25,387.05 107.92,385.67 108.60,384.30 C109.28,382.93 110.05,381.57 111.00,380.20 C111.95,378.83 113.35,377.45 114.30,376.10 C115.25,374.75 116.20,373.45 116.70,372.10 C117.20,370.75 117.32,369.25 117.30,368.00 C117.28,366.75 116.87,365.85 116.60,364.60 C116.33,363.35 115.92,361.87 115.70,360.50 C115.48,359.13 115.32,357.75 115.30,356.40 C115.28,355.05 115.30,353.75 115.60,352.40 C115.90,351.05 116.33,349.67 117.10,348.30 C117.87,346.93 119.08,345.57 120.20,344.20 C121.32,342.83 122.60,341.45 123.80,340.10 C125.00,338.75 126.37,337.42 127.40,336.10 C128.43,334.78 129.37,333.32 130.00,332.20 C130.63,331.08 130.77,330.35 131.20,329.40 C131.63,328.45 132.27,327.32 132.60,326.50 C132.93,325.68 133.06,325.25 133.20,324.50 C133.34,323.75 133.38,323.93 133.45,322.00 C133.52,320.07 133.57,314.42 133.60,312.90 Z" fill="#e8e8e8" stroke="#333333" stroke-width="1.55" stroke-linejoin="round"/>
<line x1="108.10" y1="386" x2="159.10" y2="386" stroke="#2a2a2a" stroke-width="1" stroke-dasharray="1.7 1.4"/>
<line x1="94.87" y1="440.6" x2="172.33" y2="440.6" stroke="#2a2a2a" stroke-width="1" stroke-dasharray="1.7 1.4"/>
<line x1="100.45" y1="418.6" x2="166.75" y2="418.6" stroke="#000" stroke-width="1.5" stroke-dasharray="3.5 2.6"/>
<circle cx="133.5" cy="349" r="2.6" fill="#5e5e5e"/>
<circle cx="133.5" cy="354.5" r="2.6" fill="#5e5e5e"/>
<circle cx="133.5" cy="367.7" r="2.6" fill="#5e5e5e"/>
<circle cx="133.5" cy="382.9" r="2.6" fill="#5e5e5e"/>
<circle cx="133.5" cy="388.8" r="2.6" fill="#5e5e5e"/>
<circle cx="128.5" cy="398.2" r="2.6" fill="#5e5e5e"/>
<circle cx="138.7" cy="397.2" r="2.6" fill="#5e5e5e"/>
<circle cx="123.4" cy="418.2" r="2.6" fill="#5e5e5e"/>
<circle cx="143.5" cy="418.2" r="2.6" fill="#5e5e5e"/>
<circle cx="133.4" cy="422.3" r="2.6" fill="#5e5e5e"/>
<circle cx="128.5" cy="430.2" r="2.6" fill="#5e5e5e"/>
<circle cx="138.7" cy="431.4" r="2.6" fill="#5e5e5e"/>
<circle cx="133.4" cy="437.5" r="2.6" fill="#5e5e5e"/>
<circle cx="133.4" cy="444.1" r="2.6" fill="#5e5e5e"/>
<circle cx="133.4" cy="450.2" r="2.6" fill="#5e5e5e"/>
<circle cx="123.4" cy="453.8" r="2.6" fill="#5e5e5e"/>
<circle cx="143.5" cy="453.2" r="2.6" fill="#5e5e5e"/>
<path d="M256.70,317.20 C256.73,318.50 256.82,323.48 256.90,325.00 C256.98,326.52 257.03,325.80 257.20,326.30 C257.37,326.80 257.60,327.45 257.90,328.00 C258.20,328.55 258.55,329.03 259.00,329.60 C259.45,330.17 259.95,330.82 260.60,331.40 C261.25,331.98 261.98,332.52 262.90,333.10 C263.82,333.68 264.92,334.30 266.10,334.90 C267.28,335.50 268.63,336.10 270.00,336.70 C271.37,337.30 272.87,337.90 274.30,338.50 C275.73,339.10 277.17,339.72 278.60,340.30 C280.03,340.88 281.48,341.42 282.90,342.00 C284.32,342.58 285.75,343.20 287.10,343.80 C288.45,344.40 289.80,345.00 291.00,345.60 C292.20,346.20 293.47,346.80 294.30,347.40 C295.13,348.00 295.58,348.60 296.00,349.20 C296.42,349.80 296.62,350.28 296.80,351.00 C296.98,351.72 297.28,352.67 297.10,353.50 C296.92,354.33 296.53,355.00 295.70,356.00 C294.87,357.00 292.93,358.60 292.10,359.50 C291.27,360.40 291.27,360.40 290.70,361.40 C290.13,362.40 289.07,364.40 288.70,365.50 C288.33,366.60 288.25,367.17 288.50,368.00 C288.75,368.83 289.67,369.58 290.20,370.50 C290.73,371.42 291.65,372.58 291.70,373.50 C291.75,374.42 291.08,375.18 290.50,376.00 C289.92,376.82 289.45,377.20 288.20,378.40 C286.95,379.60 284.38,381.58 283.00,383.20 C281.62,384.82 280.60,386.58 279.90,388.10 C279.20,389.62 279.15,390.80 278.80,392.30 C278.45,393.80 278.25,395.60 277.80,397.10 C277.35,398.60 276.85,399.77 276.10,401.30 C275.35,402.83 274.18,404.42 273.30,406.30 C272.42,408.18 271.23,410.50 270.80,412.60 C270.37,414.70 270.73,416.78 270.70,418.90 C270.67,421.02 270.83,423.70 270.60,425.30 C270.37,426.90 269.90,427.45 269.30,428.50 C268.70,429.55 267.83,430.55 267.00,431.60 C266.17,432.65 265.15,433.75 264.30,434.80 C263.45,435.85 262.60,436.95 261.90,437.90 C261.20,438.85 260.62,439.67 260.10,440.50 C259.58,441.33 259.27,441.87 258.80,442.90 C258.33,443.93 257.62,445.65 257.30,446.70 C256.98,447.75 257.00,446.92 256.90,449.20 C256.80,451.48 256.77,460.40 256.70,460.40 C256.63,460.40 256.60,451.48 256.50,449.20 C256.40,446.92 256.42,447.75 256.10,446.70 C255.78,445.65 255.07,443.93 254.60,442.90 C254.13,441.87 253.82,441.33 253.30,440.50 C252.78,439.67 252.20,438.85 251.50,437.90 C250.80,436.95 249.95,435.85 249.10,434.80 C248.25,433.75 247.23,432.65 246.40,431.60 C245.57,430.55 244.70,429.55 244.10,428.50 C243.50,427.45 243.03,426.90 242.80,425.30 C242.57,423.70 242.73,421.02 242.70,418.90 C242.67,416.78 243.03,414.70 242.60,412.60 C242.17,410.50 240.98,408.18 240.10,406.30 C239.22,404.42 238.05,402.83 237.30,401.30 C236.55,399.77 236.05,398.60 235.60,397.10 C235.15,395.60 234.95,393.80 234.60,392.30 C234.25,390.80 234.20,389.62 233.50,388.10 C232.80,386.58 231.78,384.82 230.40,383.20 C229.02,381.58 226.45,379.60 225.20,378.40 C223.95,377.20 223.48,376.82 222.90,376.00 C222.32,375.18 221.65,374.42 221.70,373.50 C221.75,372.58 222.67,371.42 223.20,370.50 C223.73,369.58 224.65,368.83 224.90,368.00 C225.15,367.17 225.07,366.60 224.70,365.50 C224.33,364.40 223.27,362.40 222.70,361.40 C222.13,360.40 222.13,360.40 221.30,359.50 C220.47,358.60 218.53,357.00 217.70,356.00 C216.87,355.00 216.48,354.33 216.30,353.50 C216.12,352.67 216.42,351.72 216.60,351.00 C216.78,350.28 216.98,349.80 217.40,349.20 C217.82,348.60 218.27,348.00 219.10,347.40 C219.93,346.80 221.20,346.20 222.40,345.60 C223.60,345.00 224.95,344.40 226.30,343.80 C227.65,343.20 229.08,342.58 230.50,342.00 C231.92,341.42 233.37,340.88 234.80,340.30 C236.23,339.72 237.67,339.10 239.10,338.50 C240.53,337.90 242.03,337.30 243.40,336.70 C244.77,336.10 246.12,335.50 247.30,334.90 C248.48,334.30 249.58,333.68 250.50,333.10 C251.42,332.52 252.15,331.98 252.80,331.40 C253.45,330.82 253.95,330.17 254.40,329.60 C254.85,329.03 255.20,328.55 255.50,328.00 C255.80,327.45 256.03,326.80 256.20,326.30 C256.37,325.80 256.42,326.52 256.50,325.00 C256.58,323.48 256.67,318.50 256.70,317.20 Z" fill="#ded7ef" stroke="#4a2a8e" stroke-width="1.5" stroke-linejoin="round"/>
<line x1="216.50" y1="353.5" x2="296.90" y2="353.5" stroke="#666" stroke-width="1" stroke-dasharray="1.7 1.4"/>
<line x1="236.33" y1="398.4" x2="277.07" y2="398.4" stroke="#666" stroke-width="1" stroke-dasharray="1.7 1.4"/>
<line x1="222.73" y1="374.4" x2="290.67" y2="374.4" stroke="#000" stroke-width="1.5" stroke-dasharray="3.5 2.6"/>
<circle cx="251.7" cy="346.8" r="2.6" fill="#a98ada"/>
<circle cx="261.8" cy="345.7" r="2.6" fill="#a98ada"/>
<circle cx="241.6" cy="353.2" r="2.6" fill="#a98ada"/>
<circle cx="251.7" cy="356.3" r="2.6" fill="#a98ada"/>
<circle cx="261.8" cy="353.5" r="2.6" fill="#a98ada"/>
<circle cx="271.8" cy="353" r="2.6" fill="#a98ada"/>
<circle cx="256.6" cy="367.8" r="2.6" fill="#a98ada"/>
<circle cx="251.7" cy="374" r="2.6" fill="#a98ada"/>
<circle cx="261.8" cy="375.9" r="2.6" fill="#a98ada"/>
<circle cx="271.8" cy="373.3" r="2.6" fill="#a98ada"/>
<circle cx="251.7" cy="379.2" r="2.6" fill="#a98ada"/>
<circle cx="261.8" cy="391.1" r="2.6" fill="#a98ada"/>
<circle cx="251.7" cy="394.5" r="2.6" fill="#a98ada"/>
<circle cx="256.6" cy="401.4" r="2.6" fill="#a98ada"/>
<circle cx="256.6" cy="411.7" r="2.6" fill="#a98ada"/>
<circle cx="256.6" cy="424.1" r="2.6" fill="#a98ada"/>
<circle cx="256.6" cy="431.4" r="2.6" fill="#a98ada"/>
<path d="M474.40,368.30 C474.42,369.25 474.47,372.80 474.55,374.00 C474.63,375.20 474.71,375.07 474.90,375.50 C475.09,375.93 475.15,376.02 475.70,376.60 C476.25,377.18 477.43,378.33 478.20,379.00 C478.97,379.67 479.55,380.05 480.30,380.60 C481.05,381.15 481.90,381.73 482.70,382.30 C483.50,382.87 484.35,383.45 485.10,384.00 C485.85,384.55 486.45,384.80 487.20,385.60 C487.95,386.40 488.98,387.72 489.60,388.80 C490.22,389.88 490.48,391.02 490.90,392.10 C491.32,393.18 491.65,394.48 492.10,395.30 C492.55,396.12 492.98,396.45 493.60,397.00 C494.22,397.55 494.92,398.07 495.80,398.60 C496.68,399.13 497.82,399.65 498.90,400.20 C499.98,400.75 500.85,401.22 502.30,401.90 C503.75,402.58 505.88,403.45 507.60,404.30 C509.32,405.15 511.50,406.00 512.60,407.00 C513.70,408.00 514.70,409.20 514.20,410.30 C513.70,411.40 511.63,412.38 509.60,413.60 C507.57,414.82 504.13,416.28 502.00,417.60 C499.87,418.92 498.02,420.30 496.80,421.50 C495.58,422.70 495.33,423.70 494.70,424.80 C494.07,425.90 493.72,427.13 493.00,428.10 C492.28,429.07 491.03,429.87 490.40,430.60 C489.77,431.33 489.72,431.57 489.20,432.50 C488.68,433.43 488.00,435.02 487.30,436.20 C486.60,437.38 485.85,438.48 485.00,439.60 C484.15,440.72 483.03,441.97 482.20,442.90 C481.37,443.83 480.65,444.45 480.00,445.20 C479.35,445.95 478.83,446.68 478.30,447.40 C477.77,448.12 477.15,448.85 476.80,449.50 C476.45,450.15 476.22,450.68 476.20,451.30 C476.18,451.92 476.43,452.55 476.70,453.20 C476.97,453.85 477.30,454.30 477.80,455.20 C478.30,456.10 479.30,457.72 479.70,458.60 C480.10,459.48 480.15,459.93 480.20,460.50 C480.25,461.07 480.25,461.20 480.00,462.00 C479.75,462.80 479.30,464.18 478.70,465.30 C478.10,466.42 477.07,467.58 476.40,468.70 C475.73,469.82 475.03,470.50 474.70,472.00 C474.37,473.50 474.50,477.70 474.40,477.70 C474.30,477.70 474.43,473.50 474.10,472.00 C473.77,470.50 473.07,469.82 472.40,468.70 C471.73,467.58 470.70,466.42 470.10,465.30 C469.50,464.18 469.05,462.80 468.80,462.00 C468.55,461.20 468.55,461.07 468.60,460.50 C468.65,459.93 468.70,459.48 469.10,458.60 C469.50,457.72 470.50,456.10 471.00,455.20 C471.50,454.30 471.83,453.85 472.10,453.20 C472.37,452.55 472.62,451.92 472.60,451.30 C472.58,450.68 472.35,450.15 472.00,449.50 C471.65,448.85 471.03,448.12 470.50,447.40 C469.97,446.68 469.45,445.95 468.80,445.20 C468.15,444.45 467.43,443.83 466.60,442.90 C465.77,441.97 464.65,440.72 463.80,439.60 C462.95,438.48 462.20,437.38 461.50,436.20 C460.80,435.02 460.12,433.43 459.60,432.50 C459.08,431.57 459.03,431.33 458.40,430.60 C457.77,429.87 456.52,429.07 455.80,428.10 C455.08,427.13 454.73,425.90 454.10,424.80 C453.47,423.70 453.22,422.70 452.00,421.50 C450.78,420.30 448.93,418.92 446.80,417.60 C444.67,416.28 441.23,414.82 439.20,413.60 C437.17,412.38 435.10,411.40 434.60,410.30 C434.10,409.20 435.10,408.00 436.20,407.00 C437.30,406.00 439.48,405.15 441.20,404.30 C442.92,403.45 445.05,402.58 446.50,401.90 C447.95,401.22 448.82,400.75 449.90,400.20 C450.98,399.65 452.12,399.13 453.00,398.60 C453.88,398.07 454.58,397.55 455.20,397.00 C455.82,396.45 456.25,396.12 456.70,395.30 C457.15,394.48 457.48,393.18 457.90,392.10 C458.32,391.02 458.58,389.88 459.20,388.80 C459.82,387.72 460.85,386.40 461.60,385.60 C462.35,384.80 462.95,384.55 463.70,384.00 C464.45,383.45 465.30,382.87 466.10,382.30 C466.90,381.73 467.75,381.15 468.50,380.60 C469.25,380.05 469.83,379.67 470.60,379.00 C471.37,378.33 472.55,377.18 473.10,376.60 C473.65,376.02 473.71,375.93 473.90,375.50 C474.09,375.07 474.17,375.20 474.25,374.00 C474.33,372.80 474.38,369.25 474.40,368.30 Z" fill="#e8e8e8" stroke="#333333" stroke-width="1.55" stroke-linejoin="round"/>
<line x1="446.40" y1="403.9" x2="502.40" y2="403.9" stroke="#2a2a2a" stroke-width="1" stroke-dasharray="1.7 1.4"/>
<line x1="455.54" y1="427.2" x2="493.26" y2="427.2" stroke="#2a2a2a" stroke-width="1" stroke-dasharray="1.7 1.4"/>
<line x1="437.01" y1="411.6" x2="511.79" y2="411.6" stroke="#000" stroke-width="1.5" stroke-dasharray="3.5 2.6"/>
<circle cx="474.3" cy="385.5" r="2.6" fill="#5e5e5e"/>
<circle cx="474.3" cy="392.4" r="2.6" fill="#5e5e5e"/>
<circle cx="484.1" cy="390.9" r="2.6" fill="#5e5e5e"/>
<circle cx="484.1" cy="398.7" r="2.6" fill="#5e5e5e"/>
<circle cx="464.4" cy="403.4" r="2.6" fill="#5e5e5e"/>
<circle cx="484.1" cy="404.5" r="2.6" fill="#5e5e5e"/>
<circle cx="454.6" cy="405.7" r="2.6" fill="#5e5e5e"/>
<circle cx="464.4" cy="409.2" r="2.6" fill="#5e5e5e"/>
<circle cx="494.3" cy="409.6" r="2.6" fill="#5e5e5e"/>
<circle cx="454.6" cy="411.1" r="2.6" fill="#5e5e5e"/>
<circle cx="474.3" cy="412.6" r="2.6" fill="#5e5e5e"/>
<circle cx="484.1" cy="411.5" r="2.6" fill="#5e5e5e"/>
<circle cx="464.4" cy="415.2" r="2.6" fill="#5e5e5e"/>
<circle cx="469.5" cy="420.4" r="2.6" fill="#5e5e5e"/>
<circle cx="479.3" cy="420.3" r="2.6" fill="#5e5e5e"/>
<circle cx="464.4" cy="426.4" r="2.6" fill="#5e5e5e"/>
<circle cx="484.1" cy="427.4" r="2.6" fill="#5e5e5e"/>
<circle cx="474.3" cy="431.4" r="2.6" fill="#5e5e5e"/>
<circle cx="469.5" cy="439.8" r="2.6" fill="#5e5e5e"/>
<circle cx="479.3" cy="440.3" r="2.6" fill="#5e5e5e"/>
<circle cx="474.3" cy="461.3" r="2.6" fill="#5e5e5e"/>
<path d="M597.10,313.70 C597.22,315.05 597.18,319.90 597.80,321.80 C598.42,323.70 599.43,324.00 600.80,325.10 C602.17,326.20 604.27,327.20 606.00,328.40 C607.73,329.60 609.57,330.98 611.20,332.30 C612.83,333.62 614.60,334.98 615.80,336.30 C617.00,337.62 617.73,338.88 618.40,340.20 C619.07,341.52 619.47,342.88 619.80,344.20 C620.13,345.52 620.28,347.13 620.40,348.10 C620.52,349.07 620.43,349.07 620.50,350.00 C620.57,350.93 620.57,352.63 620.80,353.70 C621.03,354.77 621.18,355.48 621.90,356.40 C622.62,357.32 623.73,358.28 625.10,359.20 C626.47,360.12 628.50,360.98 630.10,361.90 C631.70,362.82 633.55,363.78 634.70,364.70 C635.85,365.62 636.62,366.48 637.00,367.40 C637.38,368.32 637.38,369.28 637.00,370.20 C636.62,371.12 635.70,371.98 634.70,372.90 C633.70,373.82 632.15,374.78 631.00,375.70 C629.85,376.62 628.72,377.48 627.80,378.40 C626.88,379.32 626.10,380.28 625.50,381.20 C624.90,382.12 624.62,383.02 624.20,383.90 C623.78,384.78 623.35,385.77 623.00,386.50 C622.65,387.23 622.72,387.47 622.10,388.30 C621.48,389.13 620.30,390.42 619.30,391.50 C618.30,392.58 617.18,393.72 616.10,394.80 C615.02,395.88 613.97,396.92 612.80,398.00 C611.63,399.08 610.40,400.20 609.10,401.30 C607.80,402.40 606.28,403.52 605.00,404.60 C603.72,405.68 602.42,406.85 601.40,407.80 C600.38,408.75 599.52,409.48 598.90,410.30 C598.28,411.12 597.97,411.92 597.70,412.70 C597.43,413.48 597.40,413.37 597.30,415.00 C597.20,416.63 597.17,422.50 597.10,422.50 C597.03,422.50 597.00,416.63 596.90,415.00 C596.80,413.37 596.77,413.48 596.50,412.70 C596.23,411.92 595.92,411.12 595.30,410.30 C594.68,409.48 593.82,408.75 592.80,407.80 C591.78,406.85 590.48,405.68 589.20,404.60 C587.92,403.52 586.40,402.40 585.10,401.30 C583.80,400.20 582.57,399.08 581.40,398.00 C580.23,396.92 579.18,395.88 578.10,394.80 C577.02,393.72 575.90,392.58 574.90,391.50 C573.90,390.42 572.72,389.13 572.10,388.30 C571.48,387.47 571.55,387.23 571.20,386.50 C570.85,385.77 570.42,384.78 570.00,383.90 C569.58,383.02 569.30,382.12 568.70,381.20 C568.10,380.28 567.32,379.32 566.40,378.40 C565.48,377.48 564.35,376.62 563.20,375.70 C562.05,374.78 560.50,373.82 559.50,372.90 C558.50,371.98 557.58,371.12 557.20,370.20 C556.82,369.28 556.82,368.32 557.20,367.40 C557.58,366.48 558.35,365.62 559.50,364.70 C560.65,363.78 562.50,362.82 564.10,361.90 C565.70,360.98 567.73,360.12 569.10,359.20 C570.47,358.28 571.58,357.32 572.30,356.40 C573.02,355.48 573.17,354.77 573.40,353.70 C573.63,352.63 573.63,350.93 573.70,350.00 C573.77,349.07 573.68,349.07 573.80,348.10 C573.92,347.13 574.07,345.52 574.40,344.20 C574.73,342.88 575.13,341.52 575.80,340.20 C576.47,338.88 577.20,337.62 578.40,336.30 C579.60,334.98 581.37,333.62 583.00,332.30 C584.63,330.98 586.47,329.60 588.20,328.40 C589.93,327.20 592.03,326.20 593.40,325.10 C594.77,324.00 595.78,323.70 596.40,321.80 C597.02,319.90 596.98,315.05 597.10,313.70 Z" fill="#ded7ef" stroke="#4a2a8e" stroke-width="1.5" stroke-linejoin="round"/>
<line x1="573.71" y1="352.3" x2="620.49" y2="352.3" stroke="#666" stroke-width="1" stroke-dasharray="1.7 1.4"/>
<line x1="569.96" y1="383.4" x2="624.24" y2="383.4" stroke="#666" stroke-width="1" stroke-dasharray="1.7 1.4"/>
<line x1="557.80" y1="367.4" x2="636.40" y2="367.4" stroke="#000" stroke-width="1.5" stroke-dasharray="3.5 2.6"/>
<circle cx="597" cy="333.2" r="2.6" fill="#a98ada"/>
<circle cx="592" cy="340" r="2.6" fill="#a98ada"/>
<circle cx="602.1" cy="340.3" r="2.6" fill="#a98ada"/>
<circle cx="592" cy="347" r="2.6" fill="#a98ada"/>
<circle cx="602.1" cy="350.3" r="2.6" fill="#a98ada"/>
<circle cx="592" cy="353.6" r="2.6" fill="#a98ada"/>
<circle cx="612" cy="358.3" r="2.6" fill="#a98ada"/>
<circle cx="582.1" cy="362.7" r="2.6" fill="#a98ada"/>
<circle cx="592" cy="367.2" r="2.6" fill="#a98ada"/>
<circle cx="602.1" cy="366.7" r="2.6" fill="#a98ada"/>
<circle cx="612" cy="367.3" r="2.6" fill="#a98ada"/>
<circle cx="582.1" cy="370.3" r="2.6" fill="#a98ada"/>
<circle cx="592" cy="373.3" r="2.6" fill="#a98ada"/>
<circle cx="612" cy="375" r="2.6" fill="#a98ada"/>
<circle cx="582.1" cy="377.5" r="2.6" fill="#a98ada"/>
<circle cx="602.1" cy="380.9" r="2.6" fill="#a98ada"/>
<circle cx="592" cy="385.5" r="2.6" fill="#a98ada"/>
<circle cx="602.1" cy="388" r="2.6" fill="#a98ada"/>
<circle cx="592" cy="391" r="2.6" fill="#a98ada"/>
<circle cx="597" cy="396.8" r="2.6" fill="#a98ada"/>
<circle cx="597" cy="402.6" r="2.6" fill="#a98ada"/>
</svg>
</body></html>
